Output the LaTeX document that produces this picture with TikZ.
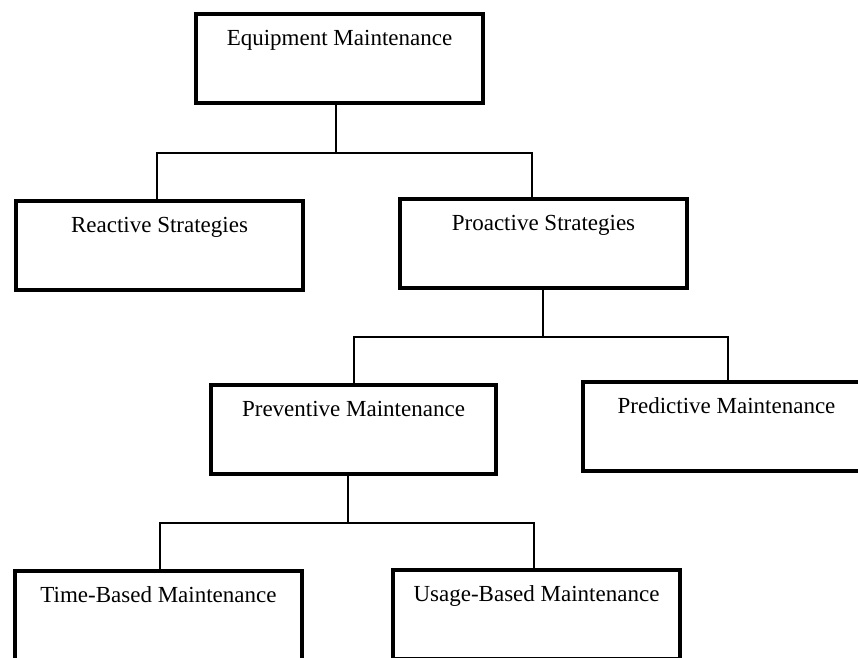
\documentclass[tikz,border=0pt]{standalone}
\usepackage{fontspec}
\setmainfont{Liberation Serif}
\usetikzlibrary{calc}
\begin{document}
\begin{tikzpicture}[x=1pt,y=-1pt,
  box/.style={draw,line width=3.5pt,rectangle,anchor=north west,inner sep=0pt,outer sep=0pt,
    minimum width=287pt,text height=31pt,text depth=58pt,font=\fontsize{23}{27}\selectfont},
  link/.style={line width=2pt}]
\useasboundingbox (0,0) rectangle (858,657);
\node[box] (equip) at (196,14) {Equipment Maintenance};
\node[box] (react) at (16,201) {Reactive Strategies};
\node[box] (proact) at (400,199) {Proactive Strategies};
\node[box,minimum width=285pt] (prevent) at (211,385) {Preventive Maintenance};
\node[box] (predict) at (583,382) {Predictive Maintenance};
\node[box] (time) at (15,571) {Time-Based Maintenance};
\node[box] (usage) at (393,570) {Usage-Based Maintenance};
\coordinate (j1) at (336,153);
\coordinate (j2) at (543,337);
\coordinate (j3) at (348,523);
\draw[link] (equip.south -| j1) -- (j1);
\draw[link] ([xshift=-2.5pt]react.north) |- (j1) -| ([xshift=-12pt]proact.north);
\draw[link] (proact.south -| j2) -- (j2);
\draw[link] (prevent.north) |- (j2) -| ([xshift=1.5pt]predict.north);
\draw[link] (prevent.south -| j3) -- (j3);
\draw[link] ([xshift=1.5pt]time.north) |- (j3) -| ([xshift=-2.5pt]usage.north);
\end{tikzpicture}
\end{document}
